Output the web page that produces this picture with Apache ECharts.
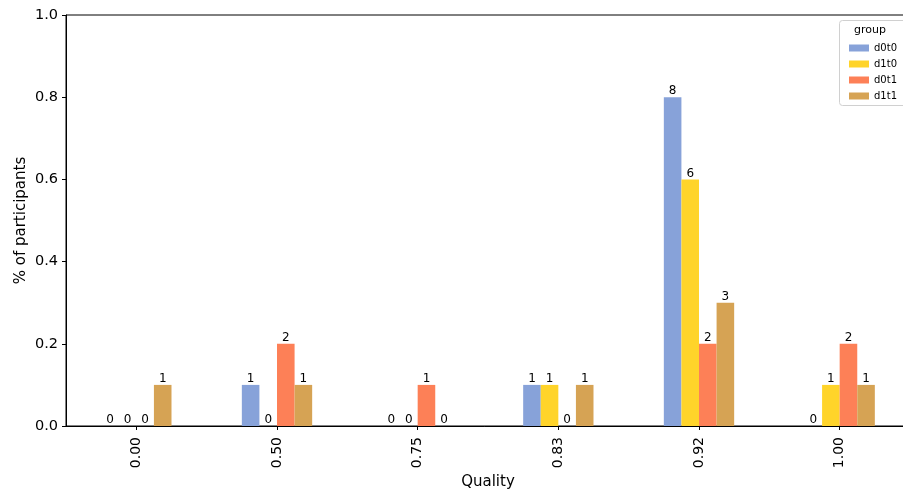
<!DOCTYPE html>
<html>
<head>
<meta charset="utf-8">
<script src="https://cdn.jsdelivr.net/npm/echarts@6/dist/echarts.min.js"></script>
<style>
  html, body { margin: 0; padding: 0; background: #fff; }
  #chart { width: 903px; height: 495px; }
</style>
</head>
<body>
<div id="chart"></div>
<script>
// Quality scores (x categories)
const categories = ['0.00', '0.50', '0.75', '0.83', '0.92', '1.00'];

// Participant counts per group at each quality score
const countsD0T0 = [0, 1, 0, 1, 8, 0];
const countsD1T0 = [0, 0, 0, 1, 6, 1];
const countsD0T1 = [0, 2, 1, 0, 2, 2];
const countsD1T1 = [1, 1, 0, 1, 3, 1];

// Share of participants per group (count / 10)
const shareD0T0 = [0.0, 0.1, 0.0, 0.1, 0.8, 0.0];
const shareD1T0 = [0.0, 0.0, 0.0, 0.1, 0.6, 0.1];
const shareD0T1 = [0.0, 0.2, 0.1, 0.0, 0.2, 0.2];
const shareD1T1 = [0.1, 0.1, 0.0, 0.1, 0.3, 0.1];

const yTicks = [0.0, 0.2, 0.4, 0.6, 0.8, 1.0];

const groups = [
  { name: 'd0t0', share: shareD0T0, counts: countsD0T0, color: '#87a2d9' },
  { name: 'd1t0', share: shareD1T0, counts: countsD1T0, color: '#ffd42a' },
  { name: 'd0t1', share: shareD0T1, counts: countsD0T1, color: '#fd8057' },
  { name: 'd1t1', share: shareD1T1, counts: countsD1T1, color: '#d6a354' }
];

const FONT = 'DejaVu Sans';
const chart = echarts.init(document.getElementById('chart'), null, { renderer: 'canvas' });

const series = groups.map(g => ({
  name: g.name,
  type: 'bar',
  data: g.share,
  barGap: '0%',
  barCategoryGap: '50%',
  itemStyle: { color: g.color },
  label: {
    show: true,
    position: 'top',
    distance: 0,
    color: '#000',
    fontFamily: FONT,
    fontSize: 12,
    formatter: p => String(g.counts[p.dataIndex])
  },
  emphasis: { disabled: true }
}));

chart.setOption({
  animation: false,
  backgroundColor: '#fff',
  textStyle: { fontFamily: FONT },
  grid: {
    left: 66, right: -7, top: 15, bottom: 69,
    containLabel: false,
    outerBoundsMode: 'none',
    show: true, borderColor: '#000', borderWidth: 1, backgroundColor: 'transparent'
  },
  xAxis: {
    type: 'category',
    data: categories,
    name: 'Quality',
    nameLocation: 'middle',
    nameGap: 49,
    nameMoveOverlap: false,
    nameTextStyle: { color: '#000', fontSize: 15, fontFamily: FONT },
    axisLine: { show: true, lineStyle: { color: '#000', width: 1 } },
    axisTick: { show: true, alignWithLabel: true, length: 4, lineStyle: { color: '#000' } },
    axisLabel: { rotate: 90, color: '#000', fontSize: 14, fontFamily: FONT, margin: 11 },
    splitLine: { show: false }
  },
  yAxis: {
    type: 'value',
    min: yTicks[0],
    max: yTicks[yTicks.length - 1],
    interval: 0.2,
    name: '% of participants',
    nameLocation: 'middle',
    nameGap: 37,
    nameMoveOverlap: false,
    nameTextStyle: { color: '#000', fontSize: 15, fontFamily: FONT },
    axisLine: { show: true, lineStyle: { color: '#000', width: 1 } },
    axisTick: { show: true, length: 4, lineStyle: { color: '#000' } },
    axisLabel: { color: '#000', fontSize: 14.5, fontFamily: FONT, margin: 8,
                 formatter: v => v.toFixed(1) },
    splitLine: { show: false }
  },
  legend: {
    orient: 'vertical',
    left: 844,
    top: 38,
    itemWidth: 20,
    itemHeight: 7,
    itemGap: 6,
    icon: 'rect',
    textStyle: { color: '#000', fontSize: 10, fontFamily: FONT },
    data: groups.map(g => g.name)
  },
  graphic: [
    {
      type: 'rect',
      shape: { x: 839.5, y: 20.5, width: 70, height: 85, r: 3 },
      style: { fill: 'rgba(255,255,255,0.8)', stroke: '#d0d0d0', lineWidth: 1 },
      z: 0
    },
    {
      type: 'text',
      left: 854, top: 25,
      style: { text: 'group', fill: '#000', fontSize: 11, fontFamily: FONT },
      z: 10
    }
  ],
  series: series
});
</script>
</body>
</html>
